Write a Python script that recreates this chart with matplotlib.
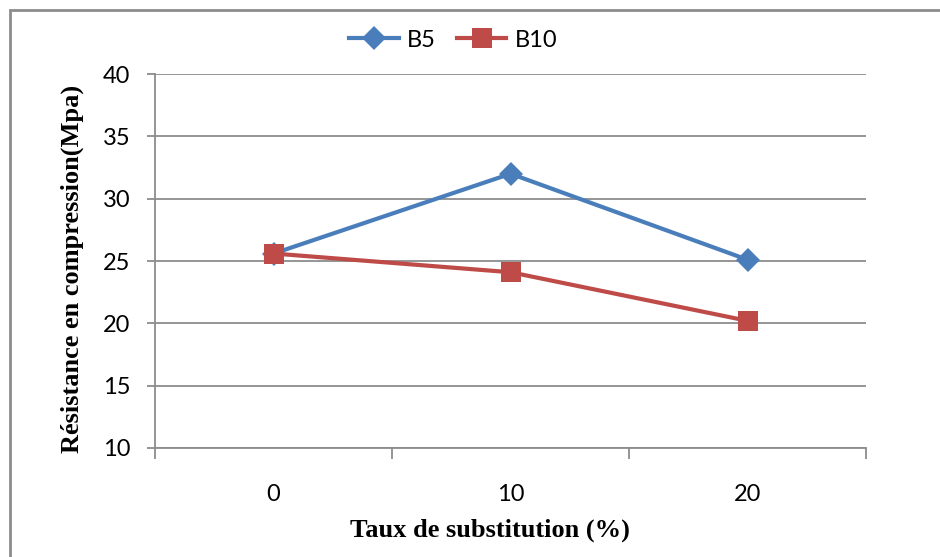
import matplotlib

matplotlib.use("Agg")
import matplotlib.pyplot as plt
from matplotlib.patches import Rectangle

categories = ["0", "10", "20"]
b5 = [25.6, 32.0, 25.1]
b10 = [25.6, 24.1, 20.2]
y_ticks = [10, 15, 20, 25, 30, 35, 40]

BLUE = "#4a7ebb"
RED = "#be4b48"
GRID = "#8c8c8c"
TICK_FONT = ["Lato", "DejaVu Sans"]
LABEL_FONT = "Liberation Serif"

fig = plt.figure(figsize=(9.4, 5.57), dpi=100)
ax = fig.add_axes([0.165, 0.1957, 0.7564, 0.6714])

xs = list(range(len(categories)))
ax.plot(xs, b5, color=BLUE, linewidth=3.0, marker="D", markersize=12,
        markeredgewidth=0, label="B5", zorder=3)
ax.plot(xs, b10, color=RED, linewidth=3.0, marker="s", markersize=14,
        markeredgewidth=0, label="B10", zorder=3)

ax.set_xlim(-0.5, len(categories) - 0.5)
ax.set_ylim(10, 40)
ax.set_yticks(y_ticks)
ax.set_xticks([x - 0.5 for x in range(len(categories) + 1)])
ax.set_xticklabels([])
ax.set_xticks(xs, minor=True)
ax.set_xticklabels(categories, minor=True)
ax.tick_params(axis="x", which="major", direction="out", length=8, width=1.3, color=GRID)
ax.tick_params(axis="x", which="minor", length=0, pad=26, labelsize=17)
ax.tick_params(axis="y", direction="out", length=6, width=1.3, color=GRID, labelsize=17, pad=12)
for lab in ax.get_xticklabels(minor=True) + ax.get_yticklabels():
    lab.set_family(TICK_FONT)

ax.grid(True, axis="y", color=GRID, linewidth=1.3)
ax.set_axisbelow(True)
for side in ("top", "right"):
    ax.spines[side].set_visible(False)
for side in ("left", "bottom"):
    ax.spines[side].set_color(GRID)
    ax.spines[side].set_linewidth(1.3)

ax.set_xlabel("Taux de substitution (%)", fontsize=19, fontweight="bold",
              family=LABEL_FONT)
ax.xaxis.set_label_coords(0.471, -0.19)
ax.set_ylabel("Résistance en compression(Mpa)", fontsize=19, fontweight="bold",
              family=LABEL_FONT)
ax.yaxis.set_label_coords(-0.1, 0.48)

leg = fig.legend(loc="center", bbox_to_anchor=(0.482, 0.928), ncol=2, frameon=False,
                 prop={"family": TICK_FONT, "size": 17}, handlelength=2.1,
                 columnspacing=0.9, handletextpad=0.34)

fig.patches.append(Rectangle((10 / 940, -0.1), 1.2, 1 - 10 / 557 + 0.1,
                             transform=fig.transFigure, fill=False,
                             edgecolor=GRID, linewidth=2))

fig.savefig("out.png", dpi=100)
